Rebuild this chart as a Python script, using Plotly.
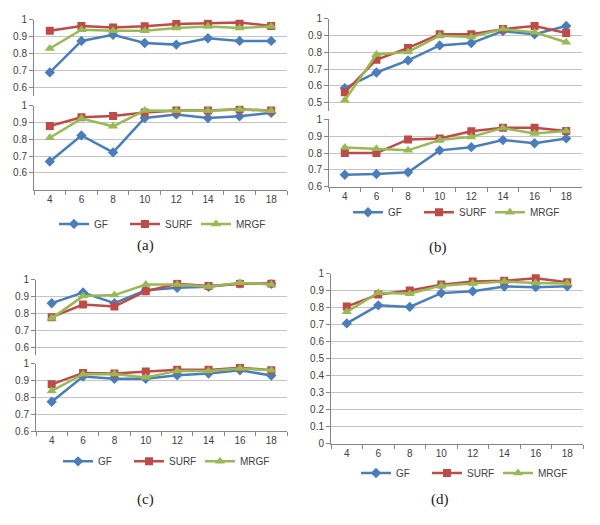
import plotly.graph_objects as go

cats = ["4", "6", "8", "10", "12", "14", "16", "18"]
names = ["GF", "SURF", "MRGF"]

# (a) upper / lower
a_top_gf = [0.687, 0.874, 0.91, 0.862, 0.852, 0.89, 0.874, 0.874]
a_top_surf = [0.934, 0.963, 0.953, 0.961, 0.975, 0.977, 0.983, 0.963]
a_top_mrgf = [0.829, 0.94, 0.934, 0.934, 0.951, 0.96, 0.951, 0.96]
a_bot_gf = [0.668, 0.823, 0.722, 0.927, 0.948, 0.927, 0.937, 0.958]
a_bot_surf = [0.879, 0.931, 0.938, 0.96, 0.971, 0.971, 0.979, 0.971]
a_bot_mrgf = [0.809, 0.923, 0.877, 0.971, 0.97, 0.97, 0.977, 0.97]

# (b) upper / lower
b_top_gf = [0.587, 0.68, 0.752, 0.841, 0.855, 0.926, 0.907, 0.957]
b_top_surf = [0.562, 0.756, 0.826, 0.907, 0.907, 0.938, 0.957, 0.915]
b_top_mrgf = [0.515, 0.787, 0.802, 0.899, 0.891, 0.938, 0.919, 0.86]
b_bot_gf = [0.671, 0.676, 0.686, 0.816, 0.835, 0.877, 0.858, 0.887]
b_bot_surf = [0.8, 0.8, 0.881, 0.887, 0.929, 0.95, 0.95, 0.931]
b_bot_mrgf = [0.833, 0.826, 0.816, 0.877, 0.896, 0.948, 0.916, 0.931]

# (c) upper / lower
c_top_gf = [0.86, 0.923, 0.86, 0.937, 0.952, 0.958, 0.977, 0.975]
c_top_surf = [0.777, 0.852, 0.84, 0.931, 0.975, 0.962, 0.975, 0.977]
c_top_mrgf = [0.77, 0.902, 0.908, 0.971, 0.971, 0.958, 0.981, 0.971]
c_bot_gf = [0.774, 0.924, 0.91, 0.91, 0.931, 0.941, 0.961, 0.929]
c_bot_surf = [0.877, 0.945, 0.941, 0.953, 0.963, 0.963, 0.976, 0.961]
c_bot_mrgf = [0.838, 0.937, 0.939, 0.918, 0.957, 0.957, 0.971, 0.961]

# (d)
d_gf = [0.708, 0.814, 0.805, 0.886, 0.897, 0.925, 0.921, 0.926]
d_surf = [0.807, 0.878, 0.901, 0.936, 0.954, 0.959, 0.973, 0.95]
d_mrgf = [0.776, 0.888, 0.882, 0.93, 0.942, 0.954, 0.946, 0.942]

W, H = 600, 525
colors = {"GF": "#4A7EBB", "SURF": "#BE4B48", "MRGF": "#98B954"}
symbols = {"GF": "diamond", "SURF": "square", "MRGF": "triangle-up"}
msize = {"GF": 8, "SURF": 8, "MRGF": 9}

# panel specs: (series, x px domain, y px domain(top,bottom), y range, tickvals, show x axis, legend id)
panels = [
    ((a_top_gf, a_top_surf, a_top_mrgf), (34, 287), (14, 91.6), (0.55, 1.0), [0.6, 0.7, 0.8, 0.9, 1.0], False, None),
    ((a_bot_gf, a_bot_surf, a_bot_mrgf), (34, 287), (102, 188), (0.5, 1.0), [0.6, 0.7, 0.8, 0.9, 1.0], True, "legend"),
    ((b_top_gf, b_top_surf, b_top_mrgf), (329, 582), (13, 107.6), (0.45, 1.0), [0.5, 0.6, 0.7, 0.8, 0.9, 1.0], False, None),
    ((b_bot_gf, b_bot_surf, b_bot_mrgf), (329, 582), (116, 185), (0.6, 1.0), [0.6, 0.7, 0.8, 0.9, 1.0], True, "legend2"),
    ((c_top_gf, c_top_surf, c_top_mrgf), (36, 287), (280, 357.6), (0.55, 1.0), [0.6, 0.7, 0.8, 0.9, 1.0], False, None),
    ((c_bot_gf, c_bot_surf, c_bot_mrgf), (36, 287), (366, 435), (0.6, 1.0), [0.6, 0.7, 0.8, 0.9, 1.0], True, "legend3"),
    ((d_gf, d_surf, d_mrgf), (331, 583), (274, 448), (0.0, 1.0), [0.0, 0.1, 0.2, 0.3, 0.4, 0.5, 0.6, 0.7, 0.8, 0.9, 1.0], True, "legend4"),
]

def fmt(v):
    s = f"{v:.1f}"
    if s == "1.0":
        return "1"
    if s == "0.0":
        return "0"
    return s

fig = go.Figure()
layout = {}
font_fam = "Liberation Sans, Arial, sans-serif"
tick_font = dict(family=font_fam, size=10, color="#404040")

for i, (series, xd, yd, yr, tv, showx, leg) in enumerate(panels, start=1):
    xa = "x" if i == 1 else f"x{i}"
    ya = "y" if i == 1 else f"y{i}"
    for name, vals in zip(names, series):
        fig.add_trace(go.Scatter(
            x=cats, y=vals, name=name, mode="lines+markers",
            xaxis=xa, yaxis=ya,
            line=dict(color=colors[name], width=2.5),
            marker=dict(symbol=symbols[name], size=msize[name], color=colors[name]),
            showlegend=leg is not None,
            legend=leg if leg else "legend",
        ))
    xkey = "xaxis" if i == 1 else f"xaxis{i}"
    ykey = "yaxis" if i == 1 else f"yaxis{i}"
    layout[xkey] = dict(
        domain=[xd[0] / W, xd[1] / W], anchor=ya, type="category",
        range=[-0.5, 7.5], showgrid=False, zeroline=False,
        showline=showx, linecolor="#868686", linewidth=1,
        ticks="outside" if showx else "", tickson="boundaries", ticklen=4,
        tickcolor="#868686", showticklabels=showx, tickfont=tick_font,
    )
    layout[ykey] = dict(
        domain=[1 - yd[1] / H, 1 - yd[0] / H], anchor=xa,
        range=list(yr), tickvals=tv, ticktext=[fmt(v) for v in tv],
        showgrid=True, gridcolor="#C4C4C4", gridwidth=1, zeroline=False,
        showline=True, linecolor="#868686", linewidth=1,
        ticks="outside", ticklen=4, tickcolor="#868686", tickfont=tick_font,
    )

leg_font = dict(family=font_fam, size=10, color="#404040")
def legend_at(xpx, ypx):
    return dict(orientation="h", x=xpx / W, y=1 - ypx / H, xanchor="left", yanchor="middle",
                font=leg_font, bgcolor="rgba(0,0,0,0)", entrywidth=26, entrywidthmode="pixels",
                itemwidth=30, tracegroupgap=0)

layout["legend"] = legend_at(54, 223)
layout["legend2"] = legend_at(348, 211)
layout["legend3"] = legend_at(58, 466)
layout["legend4"] = legend_at(356, 478)

cap_font = dict(family="Liberation Serif, DejaVu Serif, serif", size=15, color="#222222")
annotations = [
    dict(text="(a)", x=145 / W, y=1 - 245 / H),
    dict(text="(b)", x=438 / W, y=1 - 247 / H),
    dict(text="(c)", x=145 / W, y=1 - 505 / H),
    dict(text="(d)", x=440 / W, y=1 - 505 / H),
]
for a in annotations:
    a.update(xref="paper", yref="paper", showarrow=False, font=cap_font, xanchor="center", yanchor="middle")

fig.update_layout(
    width=W, height=H, margin=dict(l=0, r=0, t=0, b=0),
    paper_bgcolor="white", plot_bgcolor="white",
    annotations=annotations, **layout,
)

fig.write_html(
    "out.html",
    config={"displayModeBar": False},
    post_script="document.body.style.margin='0px';document.body.style.overflow='hidden';",
)
